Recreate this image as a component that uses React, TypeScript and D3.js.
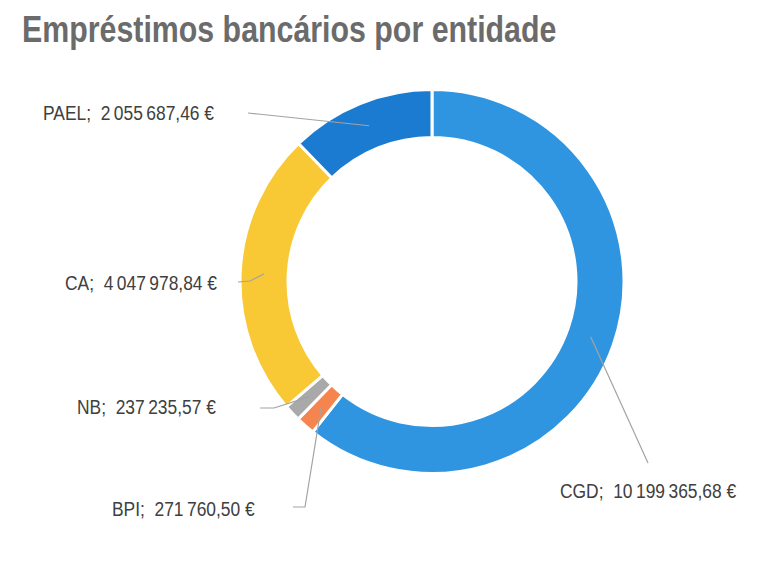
import React, { useEffect, useRef } from 'react'
import * as d3 from 'd3'

// data
const entities = ['CGD', 'BPI', 'NB', 'CA', 'PAEL']
const amounts = [10199365.68, 271760.5, 237235.57, 4047978.84, 2055687.46]
const colors = ['#2f95e0', '#f6844f', '#a9a9a9', '#f8c935', '#1b7bd0']

// label layout: text anchor x/y (left edge, vertical middle), then leader start
const labelLayout = [
	{ x: 560, y: 491, line: [[648, 463]] },
	{ x: 112, y: 509, line: [[293, 507], [305, 507]] },
	{ x: 77, y: 407, line: [[260, 408], [274, 408]] },
	{ x: 65, y: 283, line: [[238, 282], [250, 281]] },
	{ x: 43, y: 113, line: [[248, 113], [258, 114]] },
]

const W = 776
const H = 562
const cx = 432
const cy = 281.5
const outerR = 192
const innerR = 144
const narrow = 0.87
const font = '"Liberation Sans", Arial, sans-serif'

const locale = d3.formatLocale({
	decimal: ',',
	thousands: '\u2009',
	grouping: [3],
	currency: ['', ' €'],
})
const fmt = locale.format(',.2f')

export default function App() {
	const ref = useRef<SVGSVGElement>(null)

	useEffect(() => {
		const svg = d3.select(ref.current)
		svg.selectAll('*').remove()

		svg.append('rect').attr('width', W).attr('height', H).attr('fill', '#ffffff')

		svg.append('text')
			.attr('transform', 'translate(22,42) scale(0.82,1)')
			.attr('fill', '#6b6b6b')
			.attr('font-family', font)
			.attr('font-weight', 'bold')
			.attr('font-size', 37)
			.text('Empréstimos bancários por entidade')

		const pie = d3.pie<number>().sort(null).value(d => d)
		const arcs = pie(amounts)
		const arc = d3.arc<d3.PieArcDatum<number>>().innerRadius(innerR).outerRadius(outerR)

		const g = svg.append('g').attr('transform', `translate(${cx},${cy})`)

		g.selectAll('path')
			.data(arcs)
			.enter()
			.append('path')
			.attr('d', arc)
			.attr('fill', (d, i) => colors[i])
			.attr('stroke', '#ffffff')
			.attr('stroke-width', 3)

		const line = d3.line()

		arcs.forEach((a, i) => {
			const [mx, my] = arc.centroid(a)
			const pts = labelLayout[i].line.concat([[cx + mx, cy + my]]) as [number, number][]
			svg.append('path')
				.attr('d', line(pts))
				.attr('fill', 'none')
				.attr('stroke', '#a3a3a3')
				.attr('stroke-width', 1.2)
		})

		svg.selectAll('text.lbl')
			.data(arcs)
			.enter()
			.append('text')
			.attr('class', 'lbl')
			.attr('transform', (d, i) => `translate(${labelLayout[i].x},${labelLayout[i].y}) scale(${narrow},1)`)
			.attr('dy', '0.35em')
			.attr('fill', '#404040')
			.attr('font-family', font)
			.attr('font-size', 20)
			.style('white-space', 'pre')
			.text((d, i) => `${entities[i]};  ${fmt(amounts[i])} €`)
	}, [])

	return (
		<svg ref={ref} width={W} height={H} style={{ position: 'absolute', left: 0, top: 0 }} />
	)
}
